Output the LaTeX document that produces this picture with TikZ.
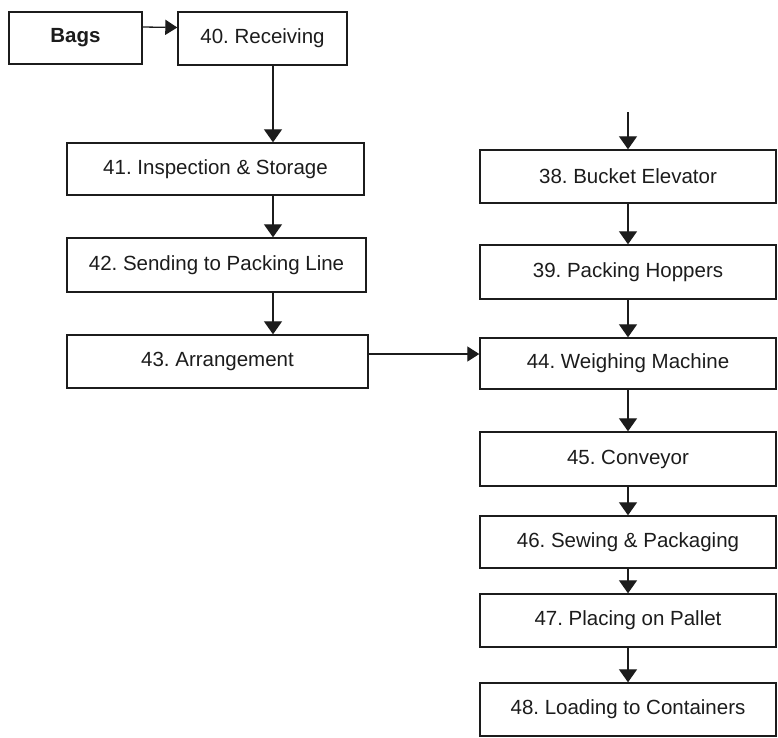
\documentclass[tikz,border=0pt]{standalone}
\usepackage{fontspec}
\setmainfont{Liberation Sans}
\usetikzlibrary{arrows.meta}
\frenchspacing
\definecolor{ink}{HTML}{1C1C1C}
\tikzset{
  box/.style={draw=ink, line width=1.4pt, inner sep=0pt, text=ink,
              font=\fontsize{20.5}{24}\selectfont},
  flow/.style={draw=ink, line width=1.3pt, -{Triangle[width=18pt,length=13pt]}},
  sideflow/.style={draw=ink, line width=1.3pt, -{Triangle[width=15pt,length=12pt]}}
}
% place a box by its corners (x1,y1) (x2,y2), y measured downwards
\newcommand{\stepnode}[6]{%
  \pgfmathsetmacro{\cx}{(#2+#4)/2}\pgfmathsetmacro{\cy}{(#3+#5)/2}%
  \pgfmathsetmacro{\bw}{#4-#2}\pgfmathsetmacro{\bh}{#5-#3}%
  \node[box, minimum width=\bw pt, minimum height=\bh pt] (#1) at (\cx,\cy) {#6};}
\begin{document}
\begin{tikzpicture}[x=1pt, y=-1pt]
\useasboundingbox (0,0) rectangle (778,737);
\fill[white] (0,0) rectangle (778,737);

% left column
\stepnode{bags}{9}{12}{142}{64}{\textbf{Bags}}
\stepnode{rec}{178}{12}{347}{65}{40. Receiving}
\stepnode{insp}{67}{143}{364}{195}{41. Inspection \& Storage}
\stepnode{send}{67}{238}{366}{292}{42. Sending to Packing Line}
\stepnode{arr}{67}{335}{368}{388}{43. Arrangement}

% right column
\stepnode{be}{480}{150}{776}{203}{38. Bucket Elevator}
\stepnode{ph}{480}{245}{776}{299}{39. Packing Hoppers}
\stepnode{wm}{480}{338}{776}{389}{44. Weighing Machine}
\stepnode{conv}{480}{432}{776}{486}{45. Conveyor}
\stepnode{sew}{480}{516}{776}{568}{46. Sewing \& Packaging}
\stepnode{pal}{480}{594}{776}{647}{47. Placing on Pallet}
\stepnode{load}{480}{683}{776}{736}{48. Loading to Containers}

% incoming feed above the bucket elevator
\coordinate (feed) at (628,112);

% connectors, left column
\draw[sideflow] ([yshift=11pt]bags.east) -- ([yshift=11pt]rec.west);
\draw[flow] (rec.south -| 273,0) -- (insp.north -| 273,0);
\draw[flow] (insp.south -| 273,0) -- (send.north -| 273,0);
\draw[flow] (send.south -| 273,0) -- (arr.north -| 273,0);
\draw[sideflow] (arr.east |- 0,354) -- (wm.west |- 0,354);

% connectors, right column
\draw[flow] (feed) -- (be.north);
\draw[flow] (be.south) -- (ph.north);
\draw[flow] (ph.south) -- (wm.north);
\draw[flow] (wm.south) -- (conv.north);
\draw[flow] (conv.south) -- (sew.north);
\draw[flow] (sew.south) -- (pal.north);
\draw[flow] (pal.south) -- (load.north);
\end{tikzpicture}
\end{document}
